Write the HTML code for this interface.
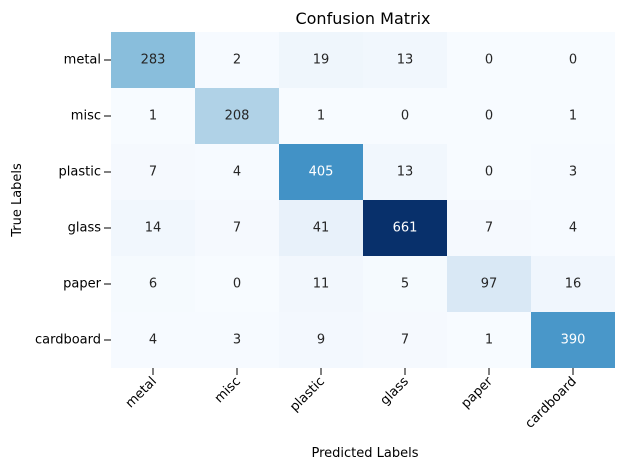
<!DOCTYPE html>
<html><head><style>
body{margin:0;background:#fff;font-family:"Liberation Sans","DejaVu Sans",sans-serif;}
</style></head><body>
<svg width="630" height="470" xmlns="http://www.w3.org/2000/svg" font-family="DejaVu Sans, Liberation Sans, sans-serif">
<rect width="630" height="470" fill="#fff"/>
<text x="363" y="24" font-size="16" text-anchor="middle" fill="#000">Confusion Matrix</text>
<g font-size="13" text-anchor="middle" dominant-baseline="central">
<rect x="111" y="32" width="84" height="56" fill="#89bedc"/><text x="153" y="60" fill="#262626">283</text>
<rect x="195" y="32" width="84" height="56" fill="#f6faff"/><text x="237" y="60" fill="#262626">2</text>
<rect x="279" y="32" width="84" height="56" fill="#eff6fc"/><text x="321" y="60" fill="#262626">19</text>
<rect x="363" y="32" width="84" height="56" fill="#f1f7fd"/><text x="405" y="60" fill="#262626">13</text>
<rect x="447" y="32" width="84" height="56" fill="#f7fbff"/><text x="489" y="60" fill="#262626">0</text>
<rect x="531" y="32" width="84" height="56" fill="#f7fbff"/><text x="573" y="60" fill="#262626">0</text>
<rect x="111" y="88" width="84" height="56" fill="#f7fbff"/><text x="153" y="116" fill="#262626">1</text>
<rect x="195" y="88" width="84" height="56" fill="#b0d2e7"/><text x="237" y="116" fill="#262626">208</text>
<rect x="279" y="88" width="84" height="56" fill="#f7fbff"/><text x="321" y="116" fill="#262626">1</text>
<rect x="363" y="88" width="84" height="56" fill="#f7fbff"/><text x="405" y="116" fill="#262626">0</text>
<rect x="447" y="88" width="84" height="56" fill="#f7fbff"/><text x="489" y="116" fill="#262626">0</text>
<rect x="531" y="88" width="84" height="56" fill="#f7fbff"/><text x="573" y="116" fill="#262626">1</text>
<rect x="111" y="144" width="84" height="56" fill="#f5f9fe"/><text x="153" y="172" fill="#262626">7</text>
<rect x="195" y="144" width="84" height="56" fill="#f6faff"/><text x="237" y="172" fill="#262626">4</text>
<rect x="279" y="144" width="84" height="56" fill="#4292c6"/><text x="321" y="172" fill="#fff">405</text>
<rect x="363" y="144" width="84" height="56" fill="#f1f7fd"/><text x="405" y="172" fill="#262626">13</text>
<rect x="447" y="144" width="84" height="56" fill="#f7fbff"/><text x="489" y="172" fill="#262626">0</text>
<rect x="531" y="144" width="84" height="56" fill="#f6faff"/><text x="573" y="172" fill="#262626">3</text>
<rect x="111" y="200" width="84" height="56" fill="#f1f7fd"/><text x="153" y="228" fill="#262626">14</text>
<rect x="195" y="200" width="84" height="56" fill="#f5f9fe"/><text x="237" y="228" fill="#262626">7</text>
<rect x="279" y="200" width="84" height="56" fill="#e8f1fa"/><text x="321" y="228" fill="#262626">41</text>
<rect x="363" y="200" width="84" height="56" fill="#08306b"/><text x="405" y="228" fill="#fff">661</text>
<rect x="447" y="200" width="84" height="56" fill="#f5f9fe"/><text x="489" y="228" fill="#262626">7</text>
<rect x="531" y="200" width="84" height="56" fill="#f6faff"/><text x="573" y="228" fill="#262626">4</text>
<rect x="111" y="256" width="84" height="56" fill="#f5fafe"/><text x="153" y="284" fill="#262626">6</text>
<rect x="195" y="256" width="84" height="56" fill="#f7fbff"/><text x="237" y="284" fill="#262626">0</text>
<rect x="279" y="256" width="84" height="56" fill="#f2f7fd"/><text x="321" y="284" fill="#262626">11</text>
<rect x="363" y="256" width="84" height="56" fill="#f5fafe"/><text x="405" y="284" fill="#262626">5</text>
<rect x="447" y="256" width="84" height="56" fill="#d9e8f5"/><text x="489" y="284" fill="#262626">97</text>
<rect x="531" y="256" width="84" height="56" fill="#f0f6fd"/><text x="573" y="284" fill="#262626">16</text>
<rect x="111" y="312" width="84" height="56" fill="#f6faff"/><text x="153" y="340" fill="#262626">4</text>
<rect x="195" y="312" width="84" height="56" fill="#f6faff"/><text x="237" y="340" fill="#262626">3</text>
<rect x="279" y="312" width="84" height="56" fill="#f3f8fe"/><text x="321" y="340" fill="#262626">9</text>
<rect x="363" y="312" width="84" height="56" fill="#f5f9fe"/><text x="405" y="340" fill="#262626">7</text>
<rect x="447" y="312" width="84" height="56" fill="#f7fbff"/><text x="489" y="340" fill="#262626">1</text>
<rect x="531" y="312" width="84" height="56" fill="#4997c9"/><text x="573" y="340" fill="#fff">390</text>
</g>
<g font-size="13" text-anchor="end" dominant-baseline="central" fill="#000">
<text x="101" y="60">metal</text><text x="101" y="116">misc</text><text x="101" y="172">plastic</text>
<text x="101" y="228">glass</text><text x="101" y="284">paper</text><text x="101" y="340">cardboard</text>
</g>
<g stroke="#000" stroke-width="1">
<line x1="104" y1="60" x2="111" y2="60"/><line x1="104" y1="116" x2="111" y2="116"/><line x1="104" y1="172" x2="111" y2="172"/>
<line x1="104" y1="228" x2="111" y2="228"/><line x1="104" y1="284" x2="111" y2="284"/><line x1="104" y1="340" x2="111" y2="340"/>
<line x1="153" y1="368" x2="153" y2="375"/><line x1="237" y1="368" x2="237" y2="375"/><line x1="321" y1="368" x2="321" y2="375"/>
<line x1="405" y1="368" x2="405" y2="375"/><line x1="489" y1="368" x2="489" y2="375"/><line x1="573" y1="368" x2="573" y2="375"/>
</g>
<g font-size="13" text-anchor="end" fill="#000">
<text transform="translate(157,382) rotate(-45)">metal</text>
<text transform="translate(241,382) rotate(-45)">misc</text>
<text transform="translate(325,382) rotate(-45)">plastic</text>
<text transform="translate(409,382) rotate(-45)">glass</text>
<text transform="translate(493,382) rotate(-45)">paper</text>
<text transform="translate(577,382) rotate(-45)">cardboard</text>
</g>
<text x="365" y="457" font-size="13" text-anchor="middle">Predicted Labels</text>
<text transform="translate(21,200) rotate(-90)" font-size="13" text-anchor="middle">True Labels</text>
</svg>
</body></html>
